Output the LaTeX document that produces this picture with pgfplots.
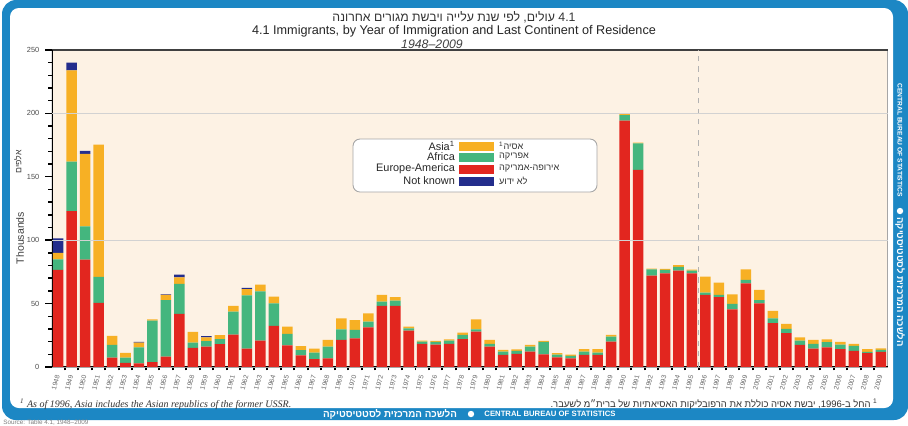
\documentclass[border=0pt]{standalone}
\usepackage{pgfplots}
\pgfplotsset{compat=1.18}
\usepackage{pgfplotstable}
\usepackage{fontspec}
\setmainfont{Liberation Sans}
\newfontfamily\hebfont[Script=Hebrew]{Liberation Sans}
\newfontfamily\serifit{Liberation Serif}
\TeXXeTstate=1

\definecolor{asiaY}{RGB}{247,176,36}
\definecolor{afrG}{RGB}{68,182,126}
\definecolor{eurR}{RGB}{226,38,31}
\definecolor{nkB}{RGB}{35,45,140}
\definecolor{peach}{RGB}{253,242,228}
\definecolor{cbsblue}{RGB}{28,135,196}

% immigrants, thousands: Europe-America, Africa, Asia, not known
\pgfplotstableread{
year eur afr asia nk
1948 76.5 8.4 5.1 11.5
1949 122.9 39.1 72.0 6.0
1950 84.6 26.2 57.2 2.5
1951 50.6 20.4 104.4 0
1952 7.4 10.0 7.1 0
1953 3.2 4.2 3.6 0
1954 2.9 12.6 3.7 0.5
1955 3.8 32.7 1.1 0
1956 8.1 44.7 4.0 0.5
1957 41.8 23.7 5.2 2.1
1958 15.0 4.2 8.4 0
1959 16.0 4.3 3.1 1.0
1960 17.9 4.1 3.0 0
1961 25.5 18.1 4.5 0
1962 14.5 42.0 4.8 1.0
1963 20.8 38.9 5.2 0
1964 32.3 17.9 5.2 0
1965 17.1 8.9 5.8 0
1966 9.2 4.0 3.2 0
1967 6.1 5.2 3.1 0
1968 6.8 9.2 5.3 0
1969 21.3 8.4 8.7 0
1970 22.6 6.6 7.8 0
1971 31.3 4.4 6.6 0
1972 48.1 3.4 5.3 0
1973 48.1 4.2 2.7 0
1974 28.7 1.8 1.3 0
1975 18.1 1.9 0.8 0
1976 17.6 2.1 0.8 0
1977 18.1 2.7 1.0 0
1978 22.0 3.2 1.8 0
1979 27.9 1.8 7.9 0
1980 16.0 2.1 3.2 0
1981 9.5 2.6 1.3 0
1982 10.3 2.3 1.3 0
1983 12.1 3.9 1.4 0
1984 10.0 9.7 0.8 0
1985 7.6 2.1 1.1 0
1986 6.8 1.9 1.0 0
1987 9.5 2.6 1.9 0
1988 9.5 1.8 2.7 0
1989 20.0 3.9 1.3 0
1990 194.2 4.5 0.8 0
1991 155.4 21.0 0.6 0
1992 72.0 5.0 0.5 0
1993 73.9 2.6 0.8 0
1994 76.0 3.0 1.3 0
1995 73.9 2.1 0.8 0
1996 56.8 1.8 12.6 0
1997 55.0 1.8 9.7 0
1998 45.5 4.2 7.6 0
1999 66.0 2.6 8.4 0
2000 50.2 2.6 7.9 0
2001 34.5 3.9 5.8 0
2002 26.6 3.4 3.9 0
2003 17.4 3.4 2.6 0
2004 14.5 3.6 3.2 0
2005 15.5 4.0 2.3 0
2006 14.0 3.6 2.1 0
2007 12.6 4.0 1.5 0
2008 10.8 1.0 2.2 0
2009 11.8 1.6 1.3 0
}\immig

\begin{document}
\begin{tikzpicture}
% frame (pixel-like units, y downwards)
\begin{scope}[x=0.02cm,y=-0.02cm]
\path[use as bounding box] (0,0) rectangle (908,425);
\fill[white] (0,0) rectangle (908,425);
\fill[cbsblue, rounded corners=8pt] (2,0) rectangle (908,420);
\fill[white, rounded corners=5pt] (10,8) rectangle (893,408);
\end{scope}

\begin{axis}[
    at={(1.04cm,-7.34cm)}, anchor=south west,
    scale only axis,
    width=16.72cm, height=6.34cm,
    ybar stacked, bar width=0.78,
    xmin=1947.55, xmax=2009.52,
    ymin=0, ymax=250,
    axis background/.style={fill=peach},
    axis line style={gray!70, line width=0.5pt},
    /pgf/number format/assume math mode=true,
    ytick={0,50,...,250}, minor y tick num=4,
    xtick=data, minor x tick num=1,
    xticklabel={\pgfmathparse{int(round(\tick))}\pgfmathresult},
    tick align=outside, xtick pos=bottom, ytick pos=left,
    major tick length=0.13cm, minor tick length=0.07cm,
    ytick style={black, line width=0.8pt},
    major x tick style={draw=none},
    minor x tick style={black, line width=1.1pt},
    yticklabel style={font=\fontsize{4.2}{5}\selectfont, text=black!70},
    xticklabel style={font=\fontsize{3.8}{4}\selectfont, text=black!60,
        rotate=75, anchor=east, inner sep=1pt},
]
\draw[gray!35, line width=0.5pt] (rel axis cs:0,0.4) -- (rel axis cs:1,0.4);
\draw[gray!35, line width=0.5pt] (rel axis cs:0,0.8) -- (rel axis cs:1,0.8);
\draw[gray!60, dashed, line width=0.4pt] (axis cs:1995.5,0) -- (axis cs:1995.5,250);
\addplot[fill=eurR, draw=none] table[x=year, y=eur] {\immig};
\addplot[fill=afrG, draw=none] table[x=year, y=afr] {\immig};
\addplot[fill=asiaY, draw=none] table[x=year, y=asia] {\immig};
\addplot[fill=nkB, draw=none] table[x=year, y=nk] {\immig};
\draw[black, line width=1.3pt] (rel axis cs:0,1) -- (rel axis cs:0,0) -- (rel axis cs:1,0);
\draw[black!75, line width=0.6pt] (rel axis cs:0,1) -- (rel axis cs:1,1);
\end{axis}

\begin{scope}[x=0.02cm,y=-0.02cm]
% titles
\node[font={\hebfont\fontsize{7}{8}\selectfont}, text=black!80] at (454,17)
  {\beginR\beginL 4.1\endL{} עולים, לפי שנת עלייה ויבשת מגורים אחרונה\endR};
\node[font=\fontsize{7.2}{8}\selectfont, text=black!85] at (454,31)
  {4.1 Immigrants, by Year of Immigration and Last Continent of Residence};
\node[font=\itshape\fontsize{7}{8}\selectfont, text=black!75] at (432,44) {1948--2009};
% y label
\node[rotate=90, font=\fontsize{6}{7}\selectfont, text=black!75] at (20,238) {Thousands};
\node[rotate=90, font={\hebfont\fontsize{5}{6}\selectfont}, text=black!75] at (18,162)
  {\beginR אלפים\endR};
% legend
\draw[gray!70, fill=white, rounded corners=4pt, line width=0.5pt] (353,139) rectangle (597,192);
\foreach \yy/\cc/\en/\he in {146/asiaY/{Asia\textsuperscript{1}}/{אסיה\textsuperscript{1}},
    157/afrG/{Africa}/{אפריקה},
    169/eurR/{Europe-America}/{אירופה-אמריקה},
    181/nkB/{Not known}/{לא ידוע}} {
  \fill[\cc] (459,\yy-4.5) rectangle (494,\yy+4.5);
  \node[anchor=east, font=\fontsize{6.2}{7}\selectfont, text=black!85, inner sep=1pt] at (457,\yy) {\en};
  \node[anchor=west, font={\hebfont\fontsize{5.2}{6}\selectfont}, text=black!80, inner sep=1pt] at (497,\yy) {\beginR\he\endR};
}
% footnotes
\node[anchor=west, font={\serifit\itshape\fontsize{5.7}{6}\selectfont}, text=black!80] at (14,404)
  {\textsuperscript{1} As of 1996, Asia includes the Asian republics of the former USSR.};
\node[anchor=east, font={\hebfont\fontsize{5.4}{6}\selectfont}, text=black!80] at (884,404)
  {\beginR\textsuperscript{1} החל ב-\beginL 1996\endL, יבשת אסיה כוללת את הרפובליקות האסיאתיות של ברית״מ לשעבר.\endR};
% bottom band
\node[font={\hebfont\bfseries\fontsize{5.6}{6}\selectfont}, text=white, inner sep=0pt] at (390,414)
  {\beginR הלשכה המרכזית לסטטיסטיקה\endR};
\node[font=\bfseries\fontsize{4.4}{5}\selectfont, text=white, inner sep=0pt] at (550,414)
  {CENTRAL BUREAU OF STATISTICS};
\fill[white] (471,414) circle (3.2);
% right strip
\node[rotate=-90, font=\bfseries\fontsize{3.8}{4}\selectfont, text=white, inner sep=0pt] at (900,140)
  {CENTRAL BUREAU OF STATISTICS};
\fill[white] (900,211) circle (3.2);
\node[rotate=-90, font={\hebfont\bfseries\fontsize{5.4}{6}\selectfont}, text=white, inner sep=0pt] at (900,282)
  {\beginR הלשכה המרכזית לסטטיסטיקה\endR};
% source
\node[anchor=west, font=\fontsize{3.6}{4}\selectfont, text=black!50, inner sep=0pt] at (3,423)
  {Source: Table 4.1, 1948--2009};
\end{scope}
\end{tikzpicture}
\end{document}
